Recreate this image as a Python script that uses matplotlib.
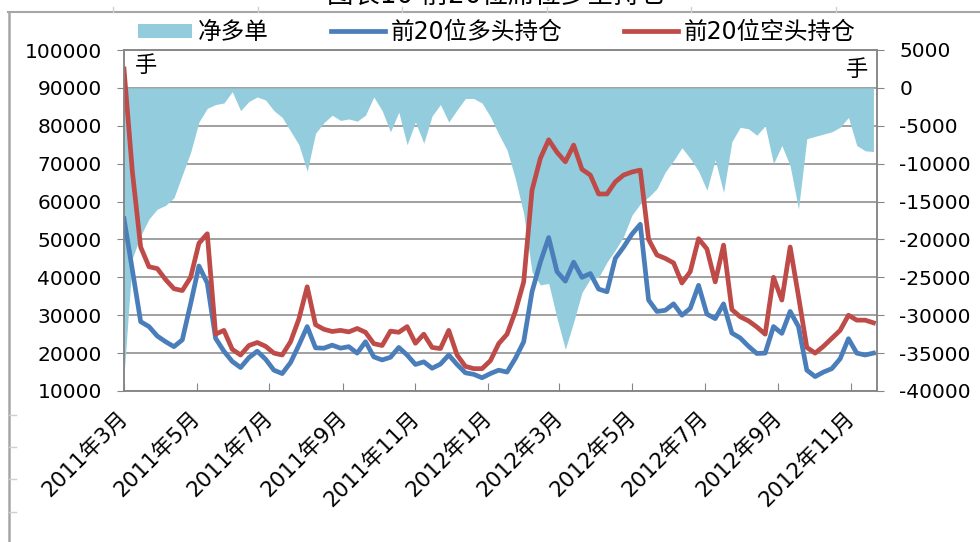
import matplotlib
matplotlib.use("Agg")
import matplotlib.pyplot as plt
from matplotlib.lines import Line2D
from matplotlib.patches import Patch
import pandas as pd

plt.rcParams['font.family'] = ['DejaVu Sans', 'Noto Sans CJK SC']

# ---- data (weekly samples) ----
dates = pd.date_range('2011-03-01', periods=91, freq='7D')

short_pos = [95000, 68000, 48000, 42800, 42300, 39400, 37000, 36500, 40000, 49000,
             51500, 25000, 26000, 21000, 19500, 22000, 22800, 21800, 20000, 19500,
             23000, 29000, 37500, 27500, 26300, 25700, 26000, 25600, 26500, 25500,
             22500, 22000, 25800, 25500, 27000, 22600, 25000, 21500, 21200, 26000,
             19500, 16500, 15900, 15900, 18000, 22500, 25000, 31000, 38800, 63000,
             71400, 76300, 73000, 70500, 74900, 68500, 67000, 62000, 62000, 65200,
             67000, 67800, 68300, 50000, 45900, 45000, 43800, 38500, 41500, 50200,
             47500, 38800, 48500, 31500, 29600, 28500, 26900, 25000, 40000, 34000,
             48000, 35000, 21500, 20000, 21800, 23900, 26000, 30000, 28700, 28700,
             28000]

long_pos = [55500, 42000, 28300, 27000, 24500, 23000, 21700, 23500, 33000, 43000,
            38500, 23900, 20500, 17800, 16200, 18800, 20500, 18400, 15500, 14600,
            17500, 22100, 27000, 21400, 21300, 22100, 21300, 21700, 20000, 23000,
            19000, 18200, 18900, 21500, 19500, 17000, 17700, 16000, 17100, 19500,
            17000, 14800, 14400, 13500, 14600, 15500, 15000, 18600, 23000, 36200,
            44000, 50500, 41500, 39000, 44000, 40000, 41000, 36900, 36200, 45000,
            48000, 51400, 54000, 34000, 31000, 31300, 33000, 30000, 31800, 37900,
            30300, 29100, 33000, 25300, 24000, 21800, 19900, 20000, 27000, 25200,
            31000, 27000, 15500, 13800, 15000, 15900, 18500, 23800, 20000, 19500,
            20000]

net_long = [-38000, -22500, -19500, -17300, -16000, -15500, -14500, -11500, -8500, -4500,
            -2700, -2200, -2000, -500, -3000, -1800, -1200, -1600, -3000, -3900,
            -5700, -7500, -11000, -6000, -4600, -3600, -4300, -4100, -4400, -3600,
            -1200, -3000, -5800, -3200, -7500, -4500, -7300, -3700, -2200, -4500,
            -2900, -1400, -1400, -2000, -3800, -6100, -8200, -12000, -16600, -24300,
            -26000, -25800, -30400, -34500, -30900, -27000, -25200, -25000, -23000, -21400,
            -19600, -16800, -15300, -14400, -13300, -11100, -9600, -7900, -9300, -11000,
            -13500, -9500, -13800, -7100, -5200, -5400, -6250, -5000, -10000, -7600,
            -10300, -16000, -6700, -6400, -6100, -5800, -5200, -3900, -7600, -8300,
            -8400]

tick_dates = ['2011-03-01', '2011-05-01', '2011-07-01', '2011-09-01', '2011-11-01',
              '2012-01-01', '2012-03-01', '2012-05-01', '2012-07-01', '2012-09-01',
              '2012-11-01']
tick_labels = ['2011年3月', '2011年5月', '2011年7月', '2011年9月', '2011年11月',
               '2012年1月', '2012年3月', '2012年5月', '2012年7月', '2012年9月',
               '2012年11月']
left_ticks = list(range(10000, 100001, 10000))
right_ticks = list(range(-40000, 5001, 5000))

legend_labels = ['净多单', '前20位多头持仓', '前20位空头持仓']
title = '图表10 前20位席位多空持仓'

# ---- styling ----
C_AREA = '#93CDDD'
C_BLUE = '#4A7EBB'
C_RED = '#BE4B48'
C_GRID = '#868686'
C_FRAME = '#A6A6A6'

W, H = 980, 542
fig = plt.figure(figsize=(W / 100, H / 100), dpi=100)

L, R, T, B = 124, 877, 50, 391
ax_r = fig.add_axes([L / W, 1 - B / H, (R - L) / W, (B - T) / H])
ax_l = ax_r.twinx()

# area on right axis
ax_r.fill_between(dates, net_long, 0, color=C_AREA, lw=0, zorder=2)
ax_r.set_ylim(-40000, 5000)
ax_r.set_yticks(right_ticks)
ax_r.set_yticklabels([str(v) for v in right_ticks])
ax_r.yaxis.tick_right()
ax_r.grid(axis='y', color=C_GRID, lw=1.1)
ax_r.set_axisbelow(True)

# lines on left axis
ax_l.plot(dates, long_pos, color=C_BLUE, lw=3.4, solid_joinstyle='round')
ax_l.plot(dates, short_pos, color=C_RED, lw=3.4, solid_joinstyle='round')
ax_l.set_ylim(10000, 100000)
ax_l.set_yticks(left_ticks)
ax_l.set_yticklabels([str(v) for v in left_ticks])
ax_l.yaxis.tick_left()

# x axis
ax_r.set_xlim(pd.Timestamp('2011-03-01'), pd.Timestamp('2012-11-23'))
ax_r.set_xticks(pd.to_datetime(tick_dates))
ax_r.set_xticklabels(tick_labels, rotation=45, ha='right', va='center',
                     rotation_mode='anchor', fontsize=15.5)
ax_r.tick_params(axis='x', direction='in', length=6, color=C_GRID, pad=17)

for a in (ax_l, ax_r):
    for s in a.spines.values():
        s.set_color(C_GRID)
        s.set_linewidth(1.1)
ax_l.tick_params(axis='y', length=5, color=C_GRID, labelsize=14.5, pad=11)
ax_r.tick_params(axis='y', length=5, color=C_GRID, labelsize=14.5, pad=11)

# unit labels
fig.text(146 / W, 1 - 66 / H, '手', ha='center', va='center', fontsize=16)
fig.text(857 / W, 1 - 70 / H, '手', ha='center', va='center', fontsize=16)

# legend
handles = [Patch(facecolor=C_AREA, edgecolor='none'),
           Line2D([], [], color=C_BLUE, lw=3.4),
           Line2D([], [], color=C_RED, lw=3.4)]
fig.legend(handles, legend_labels, loc='center', bbox_to_anchor=(497 / W, 1 - 32 / H),
           ncol=3, frameon=False, fontsize=17, handlelength=2.3, handleheight=0.55,
           handletextpad=0.25, columnspacing=2.6)

# clipped title at top
fig.text(497 / W, 1 - 9 / H, title, ha='center', va='bottom', fontsize=19)

# screenshot frame lines with small ticks
fig.add_artist(Line2D([8 / W, 1], [1 - 12 / H, 1 - 12 / H], color=C_FRAME, lw=1.5))
fig.add_artist(Line2D([9 / W, 9 / W], [0, 1 - 12 / H], color=C_FRAME, lw=1.8))
for xt in (113, 258, 402, 547, 691, 836):
    fig.add_artist(Line2D([xt / W, xt / W], [1 - 12 / H, 1 - 7 / H], color='#D0D0D0', lw=1))
for yt in (415, 447, 479, 512):
    fig.add_artist(Line2D([9 / W, 16 / W], [1 - yt / H, 1 - yt / H], color='#D0D0D0', lw=1))

fig.savefig('out.png', dpi=100)
